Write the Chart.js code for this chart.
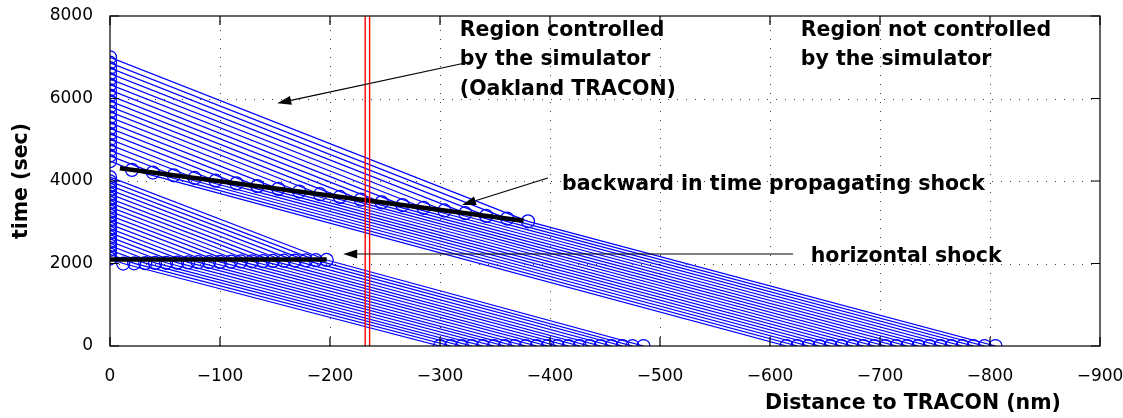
<!DOCTYPE html>
<html>
<head>
<meta charset="utf-8">
<script src="https://cdn.jsdelivr.net/npm/chart.js@4/dist/chart.umd.min.js"></script>
<style>
html, body { margin: 0; padding: 0; background: #fff; }
#wrap { width: 1123px; height: 418px; }
</style>
</head>
<body>
<div id="wrap"><canvas id="myChart"></canvas></div>
<script>
// lower band: aircraft going through the horizontal shock
const lowStartX = [-300, -310, -320, -329, -339, -349, -359, -368, -378, -388, -398, -407, -417, -427, -436, -446, -456, -466, -475, -485];
const lowKnotX  = [-12, -22, -32, -41, -51, -61, -71, -80, -90, -100, -110, -119, -129, -139, -148, -158, -168, -178, -187, -197];
const lowKnotT  = [2000, 2004, 2009, 2013, 2018, 2022, 2027, 2031, 2036, 2040, 2045, 2049, 2054, 2058, 2063, 2067, 2072, 2076, 2081, 2085];
const lowEndT   = [2120, 2224, 2328, 2432, 2536, 2640, 2744, 2848, 2952, 3056, 3160, 3264, 3368, 3472, 3576, 3680, 3784, 3888, 3992, 4096];

// upper band: aircraft going through the backward propagating shock
const upStartX = [-615, -625, -635, -645, -655, -665, -675, -685, -695, -705, -715, -725, -735, -745, -755, -765, -775, -785, -795, -805];
const upKnotX  = [-20, -39, -58, -77, -96, -115, -134, -153, -172, -191, -209, -228, -247, -266, -285, -304, -323, -342, -361, -380];
const upKnotT  = [4270, 4204, 4139, 4073, 4007, 3942, 3876, 3810, 3745, 3679, 3614, 3548, 3482, 3417, 3351, 3285, 3220, 3154, 3089, 3023];
const upEndT   = [4480, 4613, 4745, 4878, 5011, 5143, 5276, 5408, 5541, 5674, 5806, 5939, 6072, 6204, 6337, 6469, 6602, 6735, 6867, 7000];

// shocks and simulator boundary
const backShockX = [-9, -376];
const backShockT = [4307, 3038];
const horizShockX = [0, -197];
const horizShockT = [2100, 2100];
const boundaryX = [-232, -236];

const xTicks = [0, -100, -200, -300, -400, -500, -600, -700, -800, -900];
const yTicks = [0, 2000, 4000, 6000, 8000];

const FONT = '"DejaVu Sans", sans-serif';

// annotation texts and arrows, in data units
const notes = [
    { text: 'Region controlled', x: -318, y: 7636 },
    { text: 'by the simulator', x: -318, y: 6933 },
    { text: '(Oakland TRACON)', x: -318, y: 6206 },
    { text: 'Region not controlled', x: -628, y: 7636 },
    { text: 'by the simulator', x: -628, y: 6933 },
    { text: 'backward in time propagating shock', x: -411, y: 3910 },
    { text: 'horizontal shock', x: -637, y: 2160 }
];
const arrows = [
    { from: [-327, 6885], to: [-152, 5884] },
    { from: [-398, 4073], to: [-320, 3418] },
    { from: [-621, 2230], to: [-212, 2230] }
];

let datasets = [];

boundaryX.forEach((bx) => {
    datasets.push({
        data: [{x: bx, y: 0}, {x: bx, y: 8000}],
        showLine: true, borderColor: 'rgb(255,0,0)', borderWidth: 1.4,
        pointRadius: 0, order: 0
    });
});

datasets.push({
    data: backShockX.map((v, i) => ({x: v, y: backShockT[i]})),
    showLine: true, borderColor: '#000', borderWidth: 4.5, pointRadius: 0, order: 1
});
datasets.push({
    data: horizShockX.map((v, i) => ({x: v, y: horizShockT[i]})),
    showLine: true, borderColor: '#000', borderWidth: 4.5, pointRadius: 0, order: 1
});

const addTrack = (sx, kx, kt, et) => {
    datasets.push({
        data: [{x: sx, y: 0}, {x: kx, y: kt}, {x: 0, y: et}],
        showLine: true,
        borderColor: 'rgb(0,0,255)',
        borderWidth: 1.25,
        pointRadius: 6.5,
        pointBorderColor: 'rgb(0,0,255)',
        pointBackgroundColor: 'rgba(0,0,0,0)',
        pointBorderWidth: 1.25,
        order: 2
    });
};
for (let i = 0; i < lowStartX.length; i++) addTrack(lowStartX[i], lowKnotX[i], lowKnotT[i], lowEndT[i]);
for (let i = 0; i < upStartX.length; i++) addTrack(upStartX[i], upKnotX[i], upKnotT[i], upEndT[i]);

const matlabAxes = {
    id: 'matlabAxes',
    beforeDatasetsDraw(chart) {
        const {ctx, chartArea: a, scales: {x, y}} = chart;
        ctx.save();
        ctx.strokeStyle = 'rgba(0,0,0,0.75)';
        ctx.lineWidth = 1;
        ctx.setLineDash([1, 8]);
        xTicks.forEach((v) => {
            if (v === 0 || v === -900) return;
            const px = Math.round(x.getPixelForValue(v)) + 0.5;
            ctx.beginPath(); ctx.moveTo(px, a.bottom); ctx.lineTo(px, a.top); ctx.stroke();
        });
        yTicks.forEach((v) => {
            if (v === 0 || v === 8000) return;
            const py = Math.round(y.getPixelForValue(v)) + 0.5;
            ctx.beginPath(); ctx.moveTo(a.left, py); ctx.lineTo(a.right, py); ctx.stroke();
        });
        ctx.restore();
    },
    afterDatasetsDraw(chart) {
        const {ctx, chartArea: a, scales: {x, y}} = chart;
        ctx.save();
        ctx.strokeStyle = '#000';
        ctx.lineWidth = 1.2;
        ctx.strokeRect(a.left, a.top, a.right - a.left, a.bottom - a.top);
        const tl = 9;
        ctx.beginPath();
        xTicks.forEach((v) => {
            const px = x.getPixelForValue(v);
            ctx.moveTo(px, a.bottom); ctx.lineTo(px, a.bottom - tl);
            ctx.moveTo(px, a.top); ctx.lineTo(px, a.top + tl);
        });
        yTicks.forEach((v) => {
            const py = y.getPixelForValue(v);
            ctx.moveTo(a.left, py); ctx.lineTo(a.left + tl, py);
            ctx.moveTo(a.right, py); ctx.lineTo(a.right - tl, py);
        });
        ctx.stroke();

        // annotations
        ctx.fillStyle = '#000';
        ctx.font = 'bold 20.5px ' + FONT;
        ctx.textAlign = 'left';
        ctx.textBaseline = 'middle';
        notes.forEach((n) => {
            ctx.fillText(n.text, x.getPixelForValue(n.x), y.getPixelForValue(n.y));
        });
        ctx.lineWidth = 1.2;
        arrows.forEach((ar) => {
            const x1 = x.getPixelForValue(ar.from[0]), y1 = y.getPixelForValue(ar.from[1]);
            const x2 = x.getPixelForValue(ar.to[0]), y2 = y.getPixelForValue(ar.to[1]);
            const ang = Math.atan2(y2 - y1, x2 - x1);
            const len = 14, hw = 4.5;
            ctx.beginPath(); ctx.moveTo(x1, y1);
            ctx.lineTo(x2 - Math.cos(ang) * len, y2 - Math.sin(ang) * len); ctx.stroke();
            ctx.beginPath();
            ctx.moveTo(x2, y2);
            ctx.lineTo(x2 - Math.cos(ang) * len - Math.sin(ang) * hw, y2 - Math.sin(ang) * len + Math.cos(ang) * hw);
            ctx.lineTo(x2 - Math.cos(ang) * len + Math.sin(ang) * hw, y2 - Math.sin(ang) * len - Math.cos(ang) * hw);
            ctx.closePath(); ctx.fill();
        });

        // x axis title sits to the right, like the original
        ctx.font = 'bold 20.5px ' + FONT;
        ctx.textAlign = 'center';
        ctx.textBaseline = 'alphabetic';
        ctx.fillText('Distance to TRACON (nm)', 913, 409);
        ctx.restore();
    }
};

const ctx = document.getElementById('myChart').getContext('2d');
const chart = new Chart(ctx, {
    type: 'scatter',
    data: { datasets: datasets },
    options: {
        responsive: true,
        maintainAspectRatio: false,
        animation: false,
        events: [],
        layout: { padding: { top: 16, right: 23, left: 0, bottom: 0 } },
        plugins: { legend: { display: false }, tooltip: { enabled: false } },
        scales: {
            x: {
                type: 'linear', min: -900, max: 0, reverse: true,
                afterBuildTicks: (scale) => { scale.ticks = xTicks.map((v) => ({value: v})); },
                afterFit: (scale) => { scale.height = 72; scale.paddingLeft = 0; scale.paddingRight = 0; },
                grid: { display: false },
                border: { display: false },
                ticks: {
                    autoSkip: false, maxRotation: 0, padding: 12, color: '#000',
                    font: { family: FONT, size: 17 },
                    callback: (v) => (v < 0 ? '\u2212' + Math.abs(v) : '' + v)
                }
            },
            y: {
                type: 'linear', min: 0, max: 8000,
                afterBuildTicks: (scale) => { scale.ticks = yTicks.map((v) => ({value: v})); },
                afterFit: (scale) => { scale.width = 110; scale.paddingTop = 0; scale.paddingBottom = 0; },
                grid: { display: false },
                border: { display: false },
                ticks: {
                    padding: 9, color: '#000', font: { family: FONT, size: 17 },
                    callback: (v) => '' + v
                },
                title: {
                    display: true, text: 'time (sec)', color: '#000',
                    font: { family: FONT, size: 20.5, weight: 'bold' },
                    padding: { top: 9, bottom: 0 }
                }
            }
        }
    },
    plugins: [matlabAxes]
});
</script>
</body>
</html>
